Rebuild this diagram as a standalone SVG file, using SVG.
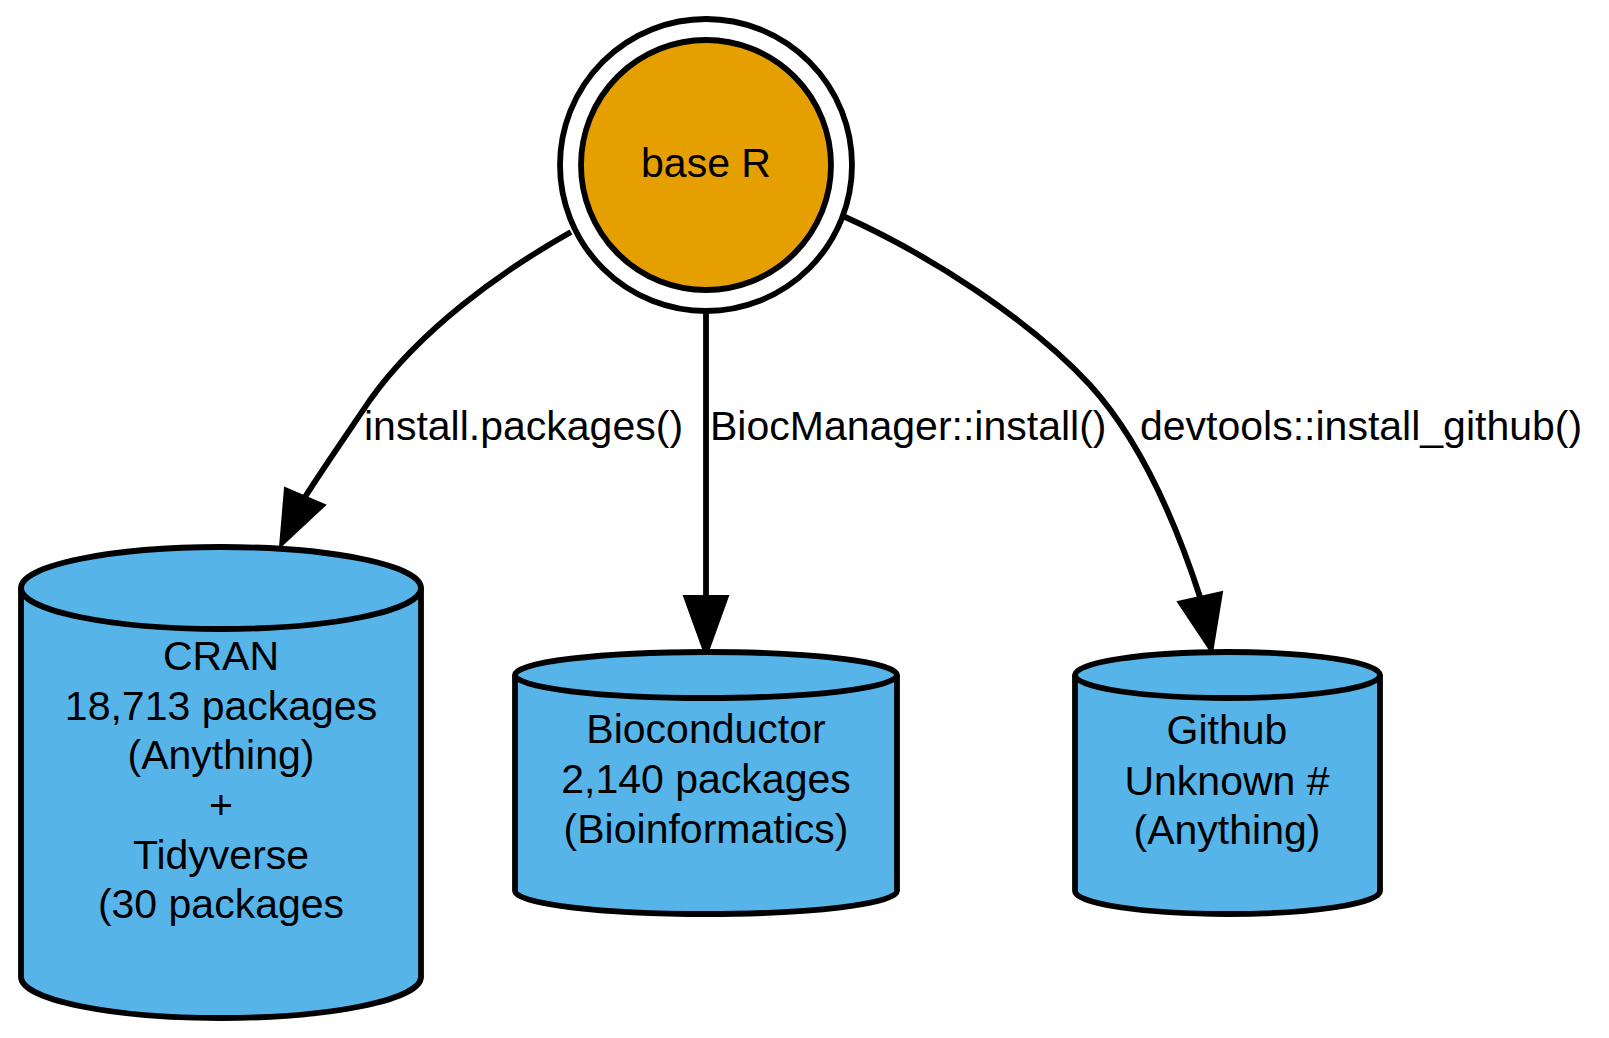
<svg xmlns="http://www.w3.org/2000/svg" width="1609" height="1038" viewBox="0 0 1609 1038">
<style>
text{font-family:"Liberation Sans",Arial,Helvetica,sans-serif;font-size:41px;fill:#000}
.node text{text-anchor:middle}
.cyl{fill:#56B4E9;stroke:#000;stroke-width:5.8}
.edge path{fill:none;stroke:#000;stroke-width:5.8}
.edge polygon{fill:#000;stroke:#000;stroke-width:2}
</style>
<rect width="1609" height="1038" fill="#fff"/>
<g id="edges" class="edge">
<g id="e-cran">
<path d="M571,232 C500,272 420,330 370,400 C345,437 322,470 305,497"/>
<polygon points="280,547 285,488 325,505"/>
<text x="364" y="440">install.packages()</text>
</g>
<g id="e-bioc">
<path d="M706,312 L706,597"/>
<polygon points="706,657 684,596 728,596"/>
<text x="710" y="440">BiocManager::install()</text>
</g>
<g id="e-github">
<path d="M843,216 C930,255 1030,320 1090,385 C1140,440 1175,520 1200,597"/>
<polygon points="1212,653 1178,602 1222,592"/>
<text x="1140" y="440">devtools::install_github()</text>
</g>
</g>
<g id="baseR" class="node">
<circle cx="706" cy="165" r="146" fill="none" stroke="#000" stroke-width="5.8"/>
<circle cx="706" cy="165" r="125" fill="#E69F00" stroke="#000" stroke-width="5.8"/>
<text x="706" y="177">base R</text>
</g>
<g id="cran" class="node">
<path class="cyl" d="M21,588 A200,41 0 0 1 421,588 L421,977 A200,41 0 0 1 21,977 Z"/>
<path class="cyl" fill="none" d="M421,588 A200,41 0 0 1 21,588"/>
<text x="221" y="670">CRAN</text>
<text x="221" y="720">18,713 packages</text>
<text x="221" y="769">(Anything)</text>
<text x="221" y="819">+</text>
<text x="221" y="869">Tidyverse</text>
<text x="221" y="918">(30 packages</text>
</g>
<g id="bioc" class="node">
<path class="cyl" d="M515,675 A191,23 0 0 1 897,675 L897,891 A191,23 0 0 1 515,891 Z"/>
<path class="cyl" d="M897,675 A191,23 0 0 1 515,675"/>
<text x="706" y="743">Bioconductor</text>
<text x="706" y="793">2,140 packages</text>
<text x="706" y="843">(Bioinformatics)</text>
</g>
<g id="github" class="node">
<path class="cyl" d="M1075,675 A152.5,23 0 0 1 1380,675 L1380,891 A152.5,23 0 0 1 1075,891 Z"/>
<path class="cyl" d="M1380,675 A152.5,23 0 0 1 1075,675"/>
<text x="1227" y="744">Github</text>
<text x="1227" y="795">Unknown #</text>
<text x="1227" y="844">(Anything)</text>
</g>
</svg>
